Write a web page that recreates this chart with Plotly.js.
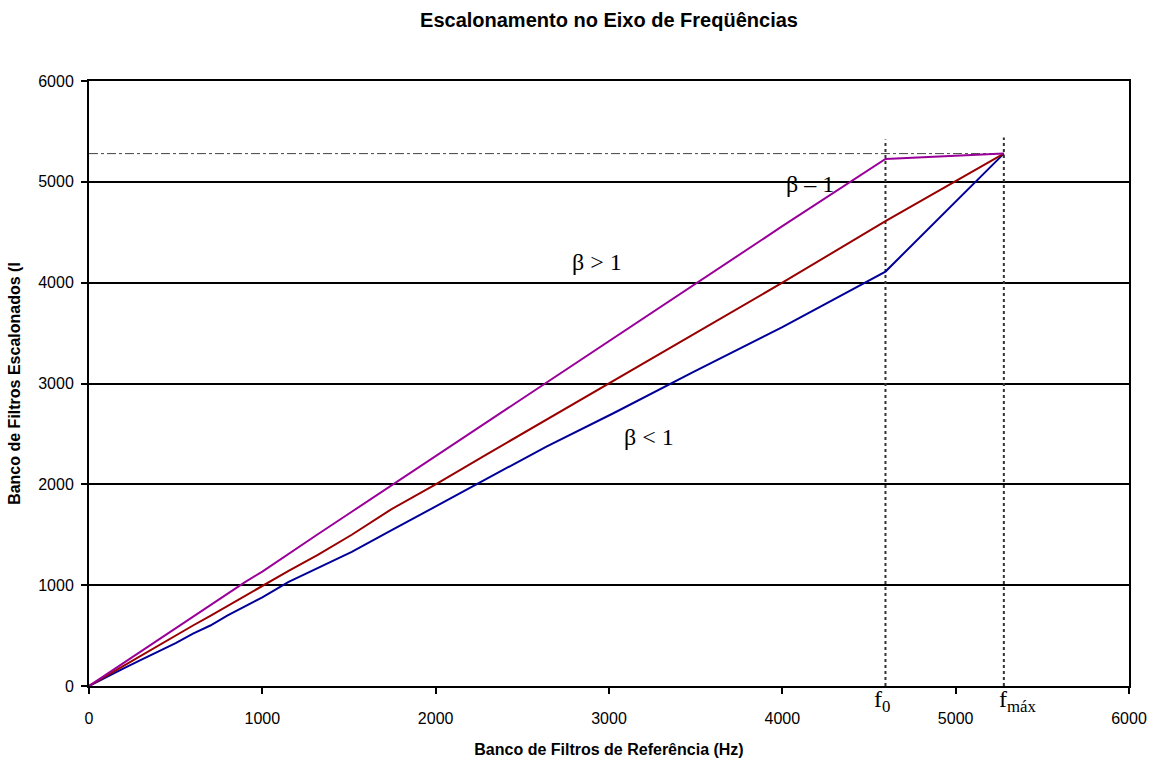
<!DOCTYPE html>
<html>
<head>
<meta charset="utf-8">
<script src="https://cdn.plot.ly/plotly-3.0.1.min.js"></script>
<style>html,body{margin:0;padding:0;background:#fff;}#chart{width:1150px;height:763px;}</style>
</head>
<body>
<div id="chart"></div>
<script>
// Reference filter-bank centre frequencies (Hz)
const refFreq = [0, 100, 200, 300, 400, 500, 600, 700, 800, 900, 1000, 1149, 1320, 1516, 1741, 2000, 2297, 2639, 3031, 3482, 4000, 4595, 5278];
// Scaled filter-bank frequencies
const betaGreater = [0, 115, 230, 345, 460, 575, 690, 805, 920, 1030, 1135, 1310, 1505, 1728, 1985, 2280, 2618, 3008, 3455, 3970, 4560, 5227, 5280];
const betaEqual   = [0, 100, 205, 300, 400, 500, 600, 695, 795, 895, 990, 1140, 1300, 1500, 1750, 2000, 2300, 2640, 3030, 3480, 4000, 4610, 5280];
const betaLess    = [0, 90, 175, 260, 345, 425, 520, 600, 700, 790, 880, 1030, 1170, 1330, 1540, 1780, 2050, 2375, 2710, 3110, 3560, 4110, 5280];
// Reference marks
const f0 = 4595;
const fmax = 5278;
const fmaxLevel = 5280;
const guideTop = [5420, 5440];
const xTicks = [0, 1000, 2000, 3000, 4000, 5000, 6000];
const yTicks = [0, 1000, 2000, 3000, 4000, 5000, 6000];
const labels = {title: 'Escalonamento no Eixo de Freqüências', x: 'Banco de Filtros de Referência (Hz)', y: 'Banco de Filtros Escalonados (I'};

const traces = [
  {x: [0, fmax], y: [fmaxLevel, fmaxLevel], mode: 'lines', line: {color: '#444', width: 1, dash: 'dashdot'}, hoverinfo: 'skip'},
  {x: [f0, f0], y: [0, guideTop[0]], mode: 'lines', line: {color: '#333', width: 2, dash: 'dot'}, hoverinfo: 'skip'},
  {x: [fmax, fmax], y: [0, guideTop[1]], mode: 'lines', line: {color: '#333', width: 2, dash: 'dot'}, hoverinfo: 'skip'},
  {x: refFreq, y: betaLess, mode: 'lines', name: 'β < 1', line: {color: '#000099', width: 2}},
  {x: refFreq, y: betaEqual, mode: 'lines', name: 'β = 1', line: {color: '#990000', width: 2}},
  {x: refFreq, y: betaGreater, mode: 'lines', name: 'β > 1', line: {color: '#990099', width: 2}}
];

const serif = {family: 'Liberation Serif, Times New Roman, serif', size: 24, color: '#000'};
const layout = {
  width: 1150, height: 763,
  paper_bgcolor: '#fff', plot_bgcolor: '#fff',
  margin: {l: 89, r: 21, t: 81, b: 77},
  showlegend: false,
  font: {family: 'Liberation Sans, Arial, sans-serif', color: '#000'},
  title: {text: '<b>' + labels.title + '</b>', x: 0.5, xref: 'paper', xanchor: 'center', y: 0.974, yanchor: 'middle', font: {size: 20, color: '#000'}},
  xaxis: {
    range: [0, 6000], tickvals: xTicks, ticktext: xTicks.map(String),
    showgrid: false, zeroline: false, showline: true, linecolor: '#000', linewidth: 2, mirror: true,
    ticks: 'outside', ticklen: 6, tickwidth: 2, tickcolor: '#000', ticklabelstandoff: 11,
    tickfont: {size: 16, color: '#000'},
    title: {text: '<b>' + labels.x + '</b>', font: {size: 16, color: '#000'}, standoff: 18}
  },
  yaxis: {
    range: [0, 6000], tickvals: yTicks, ticktext: yTicks.map(String),
    showgrid: true, gridcolor: '#000', gridwidth: 2, zeroline: false,
    showline: true, linecolor: '#000', linewidth: 2, mirror: true,
    ticks: 'outside', ticklen: 6, tickwidth: 2, tickcolor: '#000', ticklabelstandoff: 4,
    tickfont: {size: 16, color: '#000'},
    title: {text: '<b>' + labels.y + '</b>', font: {size: 16, color: '#000'}, standoff: 14}
  },
  annotations: [
    {x: 2928, y: 4205, xref: 'x', yref: 'y', text: 'β > 1', showarrow: false, font: serif},
    {x: 4161, y: 4980, xref: 'x', yref: 'y', text: 'β – 1', showarrow: false, font: serif},
    {x: 3233, y: 2470, xref: 'x', yref: 'y', text: 'β < 1', showarrow: false, font: serif},
    {x: f0, y: -0.053, xref: 'x', yref: 'paper', xshift: -3, text: 'f<sub>0</sub>', showarrow: false, font: serif},
    {x: fmax, y: -0.053, xref: 'x', yref: 'paper', xshift: 14, text: 'f<sub>máx</sub>', showarrow: false, font: serif}
  ]
};

Plotly.newPlot('chart', traces, layout, {displayModeBar: false, staticPlot: true});
</script>
</body>
</html>
